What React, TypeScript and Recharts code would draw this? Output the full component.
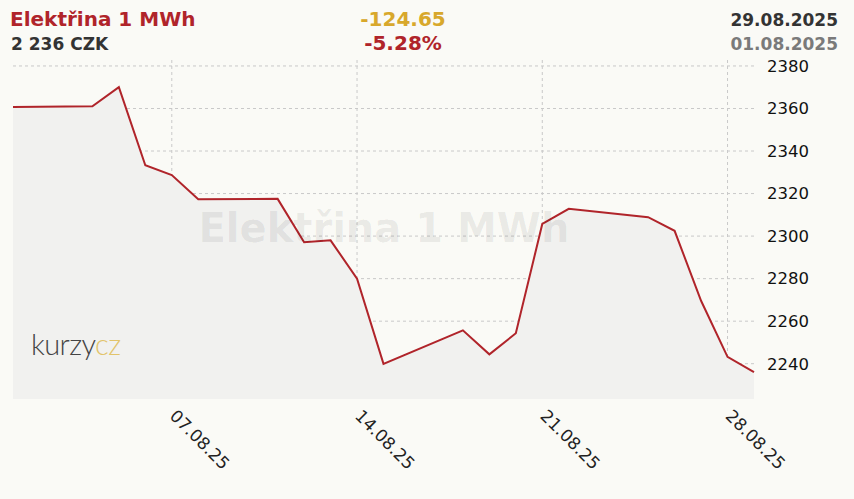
import React from "react";
import { ComposedChart, Area, XAxis, YAxis, CartesianGrid } from "recharts";

// trading days shown in the chart (weekends are skipped, the x axis is calendar time)
const dates = [
  "2025-08-01", "2025-08-04", "2025-08-05", "2025-08-06", "2025-08-07", "2025-08-08",
  "2025-08-11", "2025-08-12", "2025-08-13", "2025-08-14", "2025-08-15",
  "2025-08-18", "2025-08-19", "2025-08-20", "2025-08-21", "2025-08-22",
  "2025-08-25", "2025-08-26", "2025-08-27", "2025-08-28", "2025-08-29",
];
const prices = [
  2360.65, 2361.0, 2370.0, 2333.3, 2328.7, 2317.3,
  2317.5, 2297.1, 2298.0, 2280.0, 2239.9,
  2255.7, 2244.4, 2254.3, 2305.7, 2312.8,
  2308.9, 2302.5, 2269.6, 2243.2, 2236.0,
];
const yTicks = [2240, 2260, 2280, 2300, 2320, 2340, 2360, 2380];
const xTickDates = ["2025-08-07", "2025-08-14", "2025-08-21", "2025-08-28"];
const yDomain = [2223.4, 2382.8];

const title = "Elektřina 1 MWh";
const currency = "CZK";

const DAY = 86400000;
const toDay = (s: string) => Date.parse(s + "T00:00:00Z") / DAY;
const pad = (n: number) => String(n).padStart(2, "0");
const fmtShort = (d: number) => {
  const dt = new Date(d * DAY);
  return `${pad(dt.getUTCDate())}.${pad(dt.getUTCMonth() + 1)}.${String(dt.getUTCFullYear()).slice(2)}`;
};
const fmtLong = (s: string) => {
  const [y, m, d] = s.split("-");
  return `${d}.${m}.${y}`;
};

const data = dates.map((d, i) => ({ t: toDay(d), price: prices[i] }));
const xTicks = xTickDates.map(toDay);

const first = prices[0];
const last = prices[prices.length - 1];
const change = (last - first).toFixed(2);
const changePct = (((last - first) / first) * 100).toFixed(2) + "%";
const lastText = Math.round(last).toLocaleString("en-US").replace(/,/g, " ") + " " + currency;

const RED = "#b0242a";
const FONT = "'DejaVu Sans', Verdana, sans-serif";

function DateTick(props: any) {
  const { x, y, payload } = props;
  const tx = x - 3;
  const ty = y + 18;
  return (
    <text
      x={tx}
      y={ty}
      transform={`rotate(45 ${tx} ${ty})`}
      textAnchor="start"
      fontSize={17}
      fontFamily={FONT}
      fill="#222"
    >
      {fmtShort(payload.value)}
    </text>
  );
}

export default function App() {
  return (
    <div style={{ position: "fixed", left: 0, top: 0, width: 854, height: 499, background: "#fafaf6" }}>
      <ComposedChart width={854} height={499} data={data} margin={{ top: 60, right: 0, bottom: 0, left: 13 }}>
        <CartesianGrid stroke="#c9c9c9" strokeDasharray="3 3" syncWithTicks />
        <XAxis
          dataKey="t"
          type="number"
          domain={[data[0].t, data[data.length - 1].t]}
          ticks={xTicks}
          height={100}
          axisLine={false}
          tickLine={false}
          tickSize={0}
          tickMargin={0}
          tick={<DateTick />}
        />
        <YAxis
          orientation="right"
          type="number"
          domain={yDomain}
          ticks={yTicks}
          width={100}
          axisLine={false}
          tickLine={false}
          tickSize={0}
          tickMargin={13}
          tick={{ fontSize: 16.5, fontFamily: FONT, fill: "#111" }}
        />
        <Area
          type="linear"
          dataKey="price"
          stroke={RED}
          strokeWidth={2}
          fill="#f1f1ef"
          fillOpacity={1}
          isAnimationActive={false}
          dot={false}
          activeDot={false}
        />
      </ComposedChart>
      <svg
        width={854}
        height={499}
        style={{ position: "absolute", left: 0, top: 0, pointerEvents: "none" }}
        fontFamily={FONT}
      >
        <text x={384} y={242} textAnchor="middle" fontSize={40} fontWeight="bold" fill="#000" fillOpacity={0.07}>
          {title}
        </text>
        <text x={31} y={355} fontSize={29} fontFamily="Lato, 'Open Sans', sans-serif" fontWeight={300} letterSpacing={-0.6}>
          <tspan fill="#444">kurzy</tspan>
          <tspan fill="#e2c46a">cz</tspan>
        </text>
        <text x={10} y={26} fontSize={20} fontWeight="bold" fill={RED}>
          {title}
        </text>
        <text x={11} y={50} fontSize={17} fontWeight="bold" fill="#333">
          {lastText}
        </text>
        <text x={403} y={26} textAnchor="middle" fontSize={20} fontWeight="bold" fill="#d8a82c">
          {change}
        </text>
        <text x={403} y={50} textAnchor="middle" fontSize={20} fontWeight="bold" fill={RED}>
          {changePct}
        </text>
        <text x={838} y={26} textAnchor="end" fontSize={17} fontWeight="bold" fill="#333">
          {fmtLong(dates[dates.length - 1])}
        </text>
        <text x={838} y={50} textAnchor="end" fontSize={17} fontWeight="bold" fill="#7a7a7a">
          {fmtLong(dates[0])}
        </text>
      </svg>
    </div>
  );
}
